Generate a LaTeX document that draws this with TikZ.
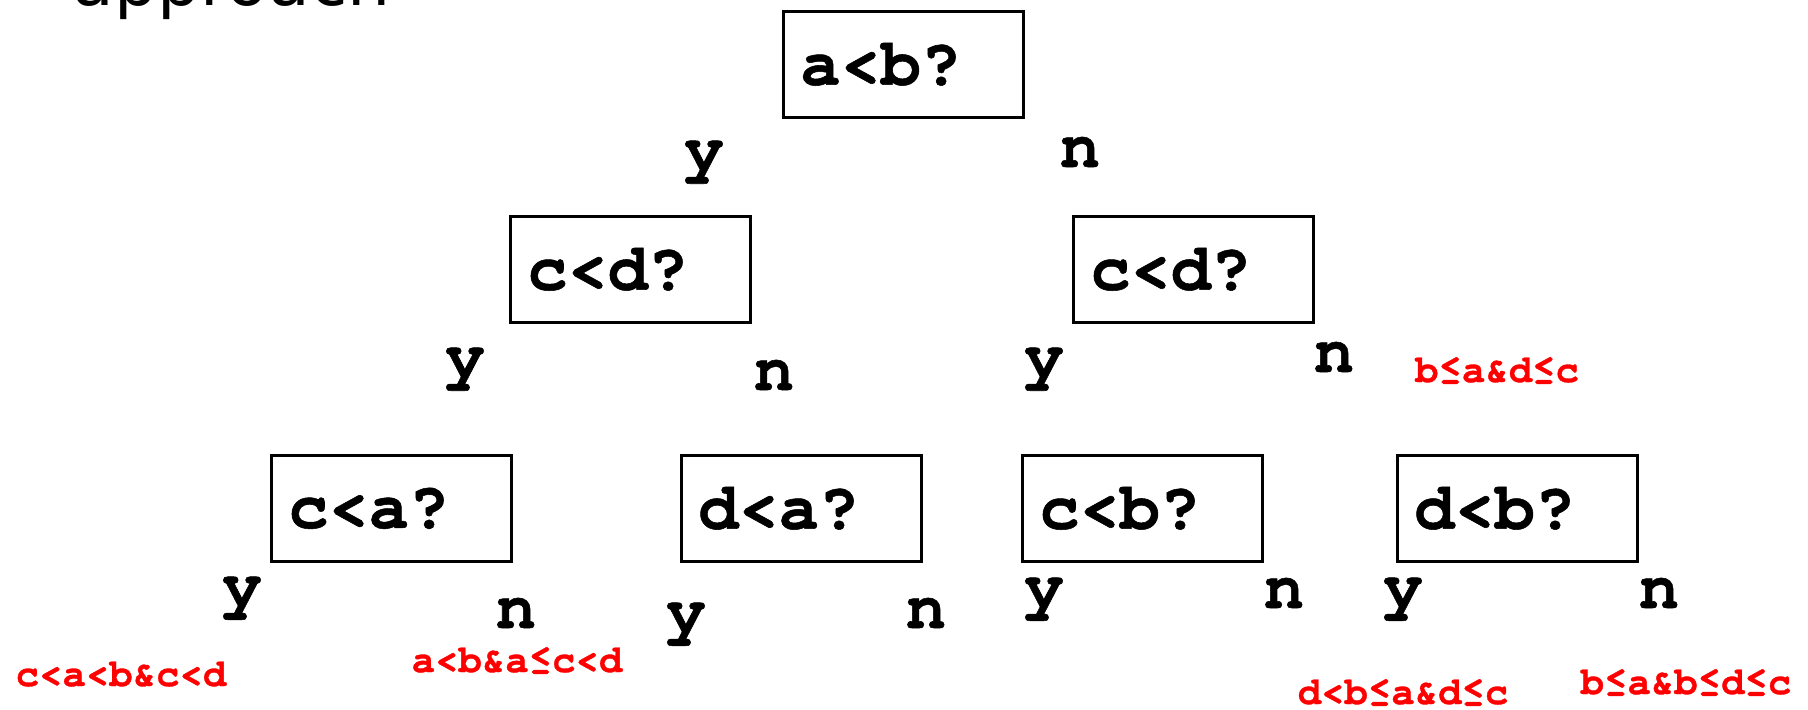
\documentclass[tikz,border=0pt]{standalone}
\usepackage{fontspec}
\newfontfamily\cour{texgyrecursor-bold}[Extension=.otf, FakeBold=0.8]
\newfontfamily\dejasans{DejaVu Sans}
\begin{document}
\begin{tikzpicture}[x=0.5pt,y=-0.5pt,
  qbox/.style={draw, line width=1.3pt, rectangle, anchor=north west, minimum height=53pt,
    text width=103pt, inner xsep=8.5pt, inner ysep=0pt, align=left,
    font=\cour\fontsize{33.5}{36}\selectfont},
  yn/.style={anchor=base, inner sep=0pt, font=\cour\fontsize{33.5}{36}\selectfont},
  res/.style={anchor=base, inner sep=0pt, text=red, font=\cour\fontsize{19.5}{22}\selectfont},
  ttl/.style={anchor=base west, inner sep=0pt, font=\dejasans\fontsize{34}{40}\selectfont}]
\useasboundingbox (0,0) rectangle (1808,709);
\node[ttl] (title) at (72,5) {approach};
% question boxes
\node[qbox] (ab) at (782,10) {a<b?};
\node[qbox] (cdL) at (509,215) {c<d?};
\node[qbox] (cdR) at (1072,215) {c<d?};
\node[qbox] (ca) at (270,454) {c<a?};
\node[qbox] (da) at (680,454) {d<a?};
\node[qbox] (cb) at (1021,454) {c<b?};
\node[qbox] (db) at (1396,454) {d<b?};
% y / n labels
\node[yn] (y0) at (704,170) {y};
\node[yn] (n0) at (1080,167) {n};
\node[yn] (y1) at (465,377) {y};
\node[yn] (n1) at (774,390) {n};
\node[yn] (y2) at (1044,377) {y};
\node[yn] (n2) at (1334,372) {n};
\node[yn] (y3) at (242,606) {y};
\node[yn] (n3) at (516,628) {n};
\node[yn] (y4) at (686,632) {y};
\node[yn] (n4) at (926,628) {n};
\node[yn] (y5) at (1044,607) {y};
\node[yn] (n5) at (1284,608) {n};
\node[yn] (y6) at (1403,607) {y};
\node[yn] (n6) at (1659,608) {n};
% results
\node[res] (r1) at (121,686) {c<a<b\&c<d};
\node[res] (r2) at (517,672) {a<b\&a≤c<d};
\node[res] (r3) at (1497,382) {b≤a\&d≤c};
\node[res] (r4) at (1403,704) {d<b≤a\&d≤c};
\node[res] (r5) at (1686,694) {b≤a\&b≤d≤c};
\end{tikzpicture}
\end{document}
